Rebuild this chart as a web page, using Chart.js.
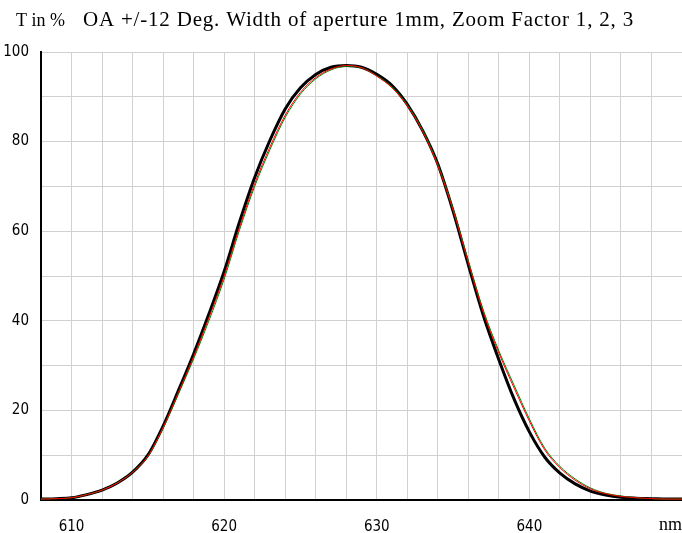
<!DOCTYPE html>
<html>
<head>
<meta charset="utf-8">
<script src="https://cdn.jsdelivr.net/npm/chart.js@4"></script>
<style>
  html, body { margin: 0; padding: 0; background: #fff; overflow: hidden; }
  #wrap { width: 682px; height: 533px; position: relative; }
  canvas { display: block; }
</style>
</head>
<body>
<div id="wrap"><canvas id="chart"></canvas></div>
<script>
// wavelength in nm
var wavelengths = [608, 609, 610, 611, 612, 613, 614, 615, 616, 617, 618, 619, 620, 621, 622, 623, 624, 625, 626, 627, 628, 629,
  630, 631, 632, 633, 634, 635, 636, 637, 638, 639, 640, 641, 642, 643, 644, 645, 646, 647, 648, 649, 650];

// transmission T in % for zoom factor 1, 2, 3
var zoom1 = [0.2, 0.3, 0.5, 1.2, 2.2, 3.8, 6.2, 10, 16.5, 24.4, 32.6, 41.5, 51, 62, 72, 80.3, 87.3, 92, 95, 96.6, 97, 96.6,
  95, 92.5, 88.3, 82.5, 75, 64.5, 52.5, 41, 31.3, 22.5, 15.2, 9.6, 6, 3.6, 2, 1.1, 0.6, 0.4, 0.3, 0.2, 0.2];
var zoom2 = [0.2, 0.3, 0.5, 1.2, 2.2, 3.8, 6.2, 9.8, 16.2, 24, 32, 40.7, 50, 60.8, 70.6, 78.8, 85.9, 91, 94.3, 96.2, 97, 96.5,
  94.6, 92, 88, 82.3, 74.6, 64.7, 53, 41.7, 32.8, 25, 17.6, 11.2, 7.2, 4.4, 2.5, 1.4, 0.8, 0.5, 0.3, 0.2, 0.2];
var zoom3 = [0.2, 0.3, 0.5, 1.2, 2.2, 3.8, 6.2, 9.7, 16, 23.6, 31.5, 40, 49.3, 60.2, 70, 78.2, 85.4, 90.6, 94, 96, 96.8, 96.5,
  94.7, 92.2, 88.2, 82.6, 74.9, 65, 53.4, 42.2, 33.3, 25.6, 18.1, 11.6, 7.5, 4.7, 2.7, 1.5, 0.9, 0.5, 0.3, 0.2, 0.2];

var xLabels = [610, 620, 630, 640];
var yLabels = [0, 20, 40, 60, 80, 100];

var serif = '"Liberation Serif", "Times New Roman", serif';
var narrow = '"Liberation Sans Narrow", "DejaVu Sans Condensed", sans-serif';

function points(values) {
  return wavelengths.map(function (w, i) { return { x: w, y: values[i] }; });
}

// header line and unit text
var captions = {
  id: 'captions',
  afterDraw: function (chart) {
    var ctx = chart.ctx;
    ctx.save();
    ctx.fillStyle = '#000';
    ctx.textBaseline = 'alphabetic';
    ctx.textAlign = 'left';
    ctx.font = '18px ' + serif;
    ctx.fillText('T in %', 16, 26);
    ctx.font = '21px ' + serif;
    ctx.letterSpacing = '0.8px';
    ctx.fillText('OA +/-12 Deg. Width of aperture 1mm, Zoom Factor 1, 2, 3', 83, 26);
    ctx.letterSpacing = '0px';
    ctx.font = '18px ' + serif;
    ctx.fillText('nm', 659, 530);
    ctx.restore();
  }
};

new Chart(document.getElementById('chart'), {
  type: 'line',
  data: {
    datasets: [
      { label: 'Zoom 1', data: points(zoom1), borderColor: '#000000', borderWidth: 3, order: 3 },
      { label: 'Zoom 2', data: points(zoom2), borderColor: '#ff0000', borderWidth: 1, order: 1 },
      { label: 'Zoom 3', data: points(zoom3), borderColor: '#008000', borderWidth: 1, order: 2 }
    ]
  },
  options: {
    responsive: true,
    maintainAspectRatio: false,
    animation: false,
    layout: { padding: { top: 52, right: 0, left: 0, bottom: 0 } },
    elements: {
      point: { radius: 0 },
      line: { cubicInterpolationMode: 'monotone', fill: false }
    },
    plugins: {
      legend: { display: false },
      tooltip: { enabled: false }
    },
    scales: {
      x: {
        type: 'linear',
        min: 608,
        max: 650,
        // plot runs right up to the canvas edge
        afterFit: function (s) { s.height = 33; s.paddingRight = 0; s.paddingLeft = 0; },
        grid: { color: '#d0d0d0', lineWidth: 1, drawTicks: false },
        border: { color: '#000', width: 2 },
        ticks: {
          stepSize: 2,
          padding: 18,
          maxRotation: 0,
          autoSkip: false,
          color: '#000',
          font: { family: narrow, size: 15 },
          callback: function (v) { return xLabels.indexOf(v) >= 0 ? String(v) : ''; }
        }
      },
      y: {
        min: 0,
        max: 100,
        afterFit: function (s) { s.width = 41; },
        grid: { color: '#d0d0d0', lineWidth: 1, drawTicks: false },
        border: { color: '#000', width: 2 },
        ticks: {
          stepSize: 10,
          padding: 12,
          autoSkip: false,
          color: '#000',
          font: { family: narrow, size: 15 },
          callback: function (v) { return yLabels.indexOf(v) >= 0 ? String(v) : ''; }
        }
      }
    }
  },
  plugins: [captions]
});
</script>
</body>
</html>
